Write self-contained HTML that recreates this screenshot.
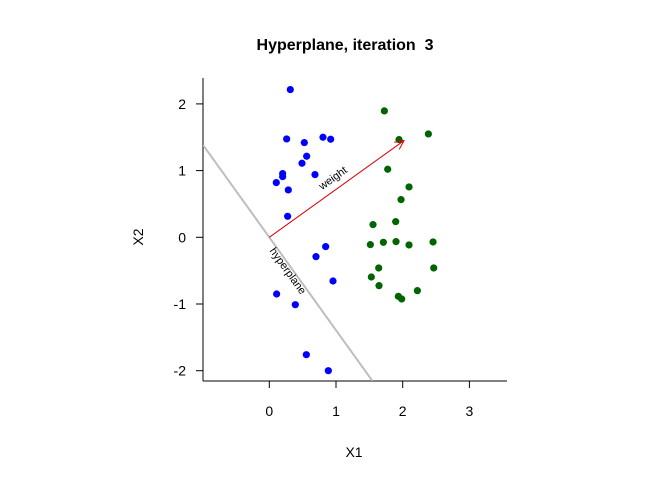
<!DOCTYPE html>
<html><head><meta charset="utf-8"><style>
html,body{margin:0;padding:0;background:#fff;overflow:hidden;width:672px;height:480px}
svg{display:block}
svg text{font-family:"Liberation Sans",Arial,sans-serif}
</style></head><body>
<svg width="672" height="480">
<defs><clipPath id="plotclip"><rect x="203" y="78" width="304" height="303"/></clipPath></defs>
<text x="345" y="50" text-anchor="middle" font-size="16" font-weight="bold" style="white-space:pre">Hyperplane, iteration  3</text>
<g id="axes"></g>
<g id="marks" clip-path="url(#plotclip)"></g>
<text x="354" y="457" text-anchor="middle" font-size="14">X1</text>
<text x="143" y="237" text-anchor="middle" font-size="14" transform="rotate(-90 143 237)">X2</text>
</svg>
<script>
const xTicks=[0,1,2,3];
const yTicks=[-2,-1,0,1,2];
const blueX=[0.315,0.26,0.525,0.805,0.92,0.56,0.49,0.2,0.2,0.105,0.685,0.285,0.275,0.845,0.7,0.955,0.11,0.39,0.555,0.885];
const blueY=[2.215,1.475,1.42,1.5,1.47,1.215,1.11,0.955,0.91,0.82,0.94,0.71,0.315,-0.14,-0.29,-0.655,-0.85,-1.01,-1.76,-2.0];
const greenX=[1.725,2.385,1.945,1.775,2.095,1.975,1.555,1.895,1.515,1.71,1.9,2.095,2.455,1.64,2.465,1.53,1.645,2.22,1.935,1.985];
const greenY=[1.895,1.55,1.465,1.02,0.755,0.565,0.19,0.235,-0.11,-0.075,-0.065,-0.115,-0.07,-0.46,-0.46,-0.595,-0.725,-0.8,-0.885,-0.925];
const weight=[2.02,1.45];
const NS='http://www.w3.org/2000/svg';
const sx=v=>269.3+v*66.7, sy=v=>237.3-v*66.7;
function mk(tag,attrs,parent){const e=document.createElementNS(NS,tag);for(const k in attrs)e.setAttribute(k,attrs[k]);parent.appendChild(e);return e;}
const ax=document.getElementById('axes'), mg=document.getElementById('marks');
let l=mk('line',{x1:203,y1:381,x2:507,y2:381,stroke:'#000'},ax);


l=mk('line',{x1:203,y1:78,x2:203,y2:381,stroke:'#000'},ax);


xTicks.forEach(t=>{
 const tl=mk('line',{x1:sx(t),y1:381,x2:sx(t),y2:388,stroke:'#000'},ax);
 
 
 const tx=mk('text',{x:sx(t),y:416,'text-anchor':'middle','font-size':14},ax);tx.textContent=t;
 
 
});
yTicks.forEach(t=>{
 const tl=mk('line',{x1:196,y1:sy(t),x2:203,y2:sy(t),stroke:'#000'},ax);
 
 
 const tx=mk('text',{x:186,y:sy(t)+5,'text-anchor':'end','font-size':14},ax);tx.textContent=t;
 
 
});
const s=-weight[0]/weight[1];
const xmin=(203-269.3)/66.7, ymin=(237.3-381)/66.7;
const xa=Math.max(xmin, (237.3-78)/66.7/s), xb=Math.min((507-269.3)/66.7, ymin/s);
const hp=mk('line',{x1:sx(xa),y1:sy(xa*s),x2:sx(xb),y2:sy(xb*s),stroke:'#bebebe','stroke-width':2},mg);


blueX.forEach((x,i)=>{const c=mk('circle',{cx:sx(x),cy:sy(blueY[i]),r:3.6,fill:'#0000ff'},mg);
 
 });
greenX.forEach((x,i)=>{const c=mk('circle',{cx:sx(x),cy:sy(greenY[i]),r:3.6,fill:'#006400'},mg);
 
 });
const x1=sx(0),y1=sy(0),x2=sx(weight[0]),y2=sy(weight[1]);
const a=mk('line',{x1:x1,y1:y1,x2:x2,y2:y2,stroke:'#dd0000','stroke-width':1},mg);


const ang=Math.atan2(y2-y1,x2-x1),h=10;
const ah=mk('polyline',{points:`${x2-h*Math.cos(ang-0.45)},${y2-h*Math.sin(ang-0.45)} ${x2},${y2} ${x2-h*Math.cos(ang+0.45)},${y2-h*Math.sin(ang+0.45)}`,fill:'none',stroke:'#dd0000'},mg);


const deg=ang*180/Math.PI;
const wl=mk('text',{x:335,y:181,'text-anchor':'middle','font-size':11,transform:`rotate(${deg} 335 181)`},mg);wl.textContent='weight';


const hl=mk('text',{x:285,y:273,'text-anchor':'middle','font-size':11,transform:`rotate(${Math.atan(-s)*180/Math.PI} 285 273)`},mg);hl.textContent='hyperplane';


</script>
</body></html>
